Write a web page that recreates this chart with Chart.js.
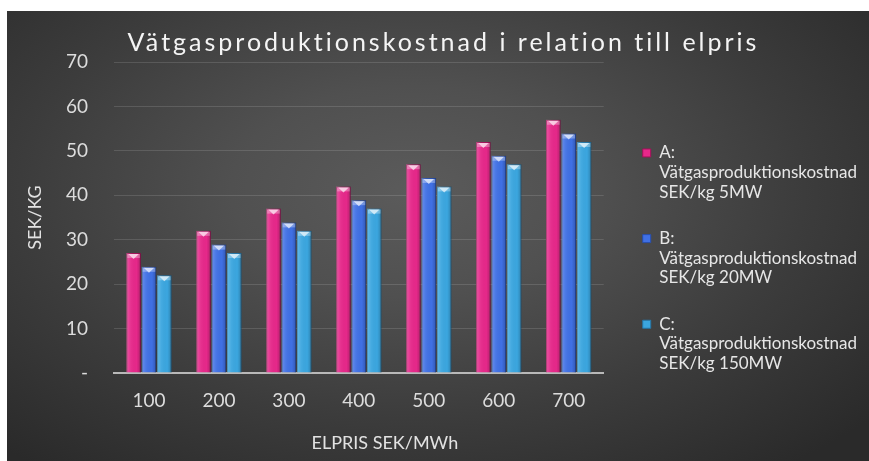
<!DOCTYPE html>
<html lang="sv">
<head>
<meta charset="utf-8">
<title>Vätgasproduktionskostnad i relation till elpris</title>
<script src="https://cdn.jsdelivr.net/npm/chart.js@4"></script>
<style>
  html, body { margin: 0; padding: 0; background: #fff; overflow: hidden; }
  .panel {
    position: absolute; left: 7px; top: 11px; width: 862px; height: 450px;
    background: radial-gradient(70% 78% at 47% 40%, #5b5b5b 0%, #505050 30%, #3c3c3c 65%, #2a2a2a 100%);
  }
  .panel canvas { display: block; }
</style>
</head>
<body>
<div class="panel"><canvas id="chart" width="862" height="450"></canvas></div>
<script>
// ── DATA ───────────────────────────────────────────────────
const elpris = ['100', '200', '300', '400', '500', '600', '700'];
const kostnad5MW = [27, 32, 37, 42, 47, 52, 57];
const kostnad20MW = [23.9, 28.9, 33.9, 38.9, 43.9, 48.9, 53.9];
const kostnad150MW = [22, 27, 32, 37, 42, 47, 52];
const seriesLabels = [
  ['A:', 'Vätgasproduktionskostnad', 'SEK/kg 5MW'],
  ['B:', 'Vätgasproduktionskostnad', 'SEK/kg 20MW'],
  ['C:', 'Vätgasproduktionskostnad', 'SEK/kg 150MW'],
];
const yTicks = [0, 10, 20, 30, 40, 50, 60, 70];

const FONT = 'Lato, "Open Sans", sans-serif';

// ── 3D BAR LOOK ────────────────────────────────────────────
const bevelBars = {
  id: 'bevelBars',
  afterDatasetsDraw(chart) {
    const ctx = chart.ctx;
    chart.data.datasets.forEach((ds, di) => {
      const meta = chart.getDatasetMeta(di);
      meta.data.forEach(bar => {
        const { x, y, base, width } = bar.getProps(['x', 'y', 'base', 'width'], true);
        const left = x - width / 2, right = x + width / 2;
        ctx.save();
        const g = ctx.createLinearGradient(left, 0, right, 0);
        g.addColorStop(0, 'rgba(255,255,255,0.22)');
        g.addColorStop(0.3, 'rgba(255,255,255,0.05)');
        g.addColorStop(0.7, 'rgba(0,0,0,0)');
        g.addColorStop(1, 'rgba(0,0,0,0.22)');
        ctx.fillStyle = g;
        ctx.fillRect(left, y, width, base - y);
        // top cap
        ctx.fillStyle = 'rgba(255,255,255,0.3)';
        ctx.fillRect(left + 1, y + 1, width - 2, 4);
        ctx.beginPath();
        ctx.moveTo(left + 2, y + 1);
        ctx.lineTo(right - 2, y + 1);
        ctx.lineTo(x, y + 6);
        ctx.closePath();
        ctx.fillStyle = 'rgba(255,255,255,0.65)';
        ctx.fill();
        ctx.restore();
      });
    });
  }
};

// legend lower + a bit right, title spaced out, x title off-centre like the original
const tweaks = {
  id: 'tweaks',
  afterLayout(chart) {
    const lg = chart.legend;
    if (lg) { lg.left += 12; lg.right += 12; lg.top -= 53; lg.bottom -= 53; }
    const t = chart.titleBlock;
    if (t) {
      t.left += 5; t.right += 5;
      if (!t._spaced) {
        const draw = t.draw.bind(t);
        t.draw = (...a) => { chart.ctx.save(); chart.ctx.letterSpacing = '3px'; draw(...a); chart.ctx.restore(); };
        t._spaced = true;
      }
    }
    const xs = chart.scales.x;
    if (xs && !xs._shifted) {
      const drawTitle = xs.drawTitle.bind(xs);
      xs.drawTitle = (...a) => { chart.ctx.save(); chart.ctx.translate(26, 0); drawTitle(...a); chart.ctx.restore(); };
      xs._shifted = true;
    }
  }
};

new Chart(document.getElementById('chart'), {
  type: 'bar',
  data: {
    labels: elpris,
    datasets: [
      { label: seriesLabels[0], data: kostnad5MW, backgroundColor: '#e6288a', borderColor: '#a3125a' },
      { label: seriesLabels[1], data: kostnad20MW, backgroundColor: '#4070e4', borderColor: '#284fae' },
      { label: seriesLabels[2], data: kostnad150MW, backgroundColor: '#3ba6df', borderColor: '#2677a8' },
    ],
  },
  options: {
    responsive: false,
    animation: false,
    layout: { padding: { left: 15, right: 14, top: 0, bottom: 6.6 } },
    datasets: {
      bar: { borderWidth: 1, categoryPercentage: 0.66, barPercentage: 0.95 },
    },
    plugins: {
      title: {
        display: true,
        text: 'Vätgasproduktionskostnad i relation till elpris',
        color: '#f4f4f4',
        font: { family: FONT, size: 25, weight: 'normal' },
        padding: { top: 17, bottom: 4 },
      },
      legend: {
        position: 'right',
        align: 'end',
        maxWidth: 320,
        labels: {
          color: '#e6e6e6',
          boxWidth: 8,
          boxHeight: 8,
          padding: 27,
          font: { family: FONT, size: 17, lineHeight: 1.15 },
        },
      },
      tooltip: { enabled: false },
    },
    scales: {
      x: {
        grid: { display: false, drawTicks: false },
        border: { display: true, color: '#b9b9b9', width: 2 },
        ticks: { color: '#dcdcdc', padding: 16, font: { family: FONT, size: 19 } },
        title: {
          display: true,
          text: 'ELPRIS SEK/MWh',
          color: '#e2e2e2',
          font: { family: FONT, size: 18 },
          padding: { top: 5, bottom: 0 },
        },
      },
      y: {
        min: 0,
        max: 70,
        afterBuildTicks: axis => { axis.ticks = yTicks.map(v => ({ value: v })); },
        afterFit: axis => { axis.width = 92; },
        grid: { color: 'rgba(255,255,255,0.13)', drawTicks: false },
        border: { display: false },
        ticks: {
          color: '#dcdcdc',
          padding: 26,
          font: { family: FONT, size: 19 },
          callback: v => (v === 0 ? '-' : v),
        },
        title: {
          display: true,
          text: 'SEK/KG',
          color: '#e2e2e2',
          font: { family: FONT, size: 18 },
          padding: { top: 2, bottom: 0 },
        },
      },
    },
  },
  plugins: [bevelBars, tweaks],
});
</script>
</body>
</html>
